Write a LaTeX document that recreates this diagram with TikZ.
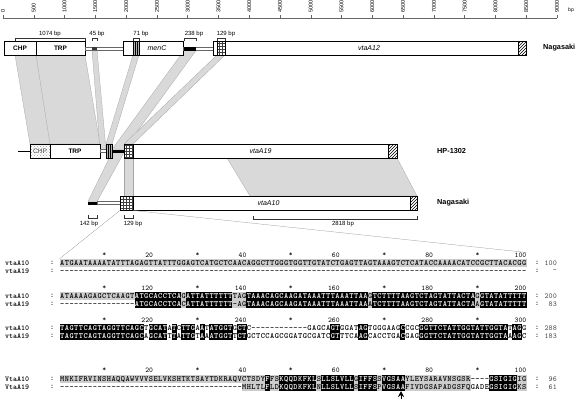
\documentclass[tikz,border=0pt]{standalone}
\usepackage{fontspec}
\setmainfont{Liberation Sans}
\usetikzlibrary{patterns,arrows.meta,positioning}

% alignment columns
\newcount\seqpos
\def\seqxo{60}
\def\seqcw{4.665}
\def\seqrep#1#2{\ifnum#1>0 #2\expandafter\seqrep\expandafter{\the\numexpr#1-1\relax}{#2}\fi}
\makeatletter
\def\seqblock#1#2#3#4#5#6{% name, y of row a, y of row b, row a, row b, mask
  \seqpos=0 \def\seqname{#1}\def\seqya{#2}\def\seqyb{#3}%
  \edef\seq@args{\noexpand\seq@loop#4\relax#5\relax#6\relax}\seq@args}
\def\seq@loop#1#2\relax#3#4\relax#5#6\relax{%
  \advance\seqpos by 1
  \seq@col{#1}{#3}{#5}%
  \ifx\relax#2\relax\expandafter\@gobble\else\expandafter\@firstofone\fi
  {\seq@loop#2\relax#4\relax#6\relax}}
\def\seq@col#1#2#3{%
  \if#3a\def\seqsa{g}\def\seqsb{n}\fi
  \if#3g\def\seqsa{g}\def\seqsb{g}\fi
  \if#3n\def\seqsa{n}\def\seqsb{n}\fi
  \if#3c\ifx#1#2\def\seqsa{k}\def\seqsb{k}\else\def\seqsa{g}\def\seqsb{g}\fi\fi
  \if#3d\ifx#1#2\def\seqsa{k}\def\seqsb{k}\else\def\seqsa{n}\def\seqsb{n}\fi\fi
  \pgfmathsetmacro\seqx{\seqxo+(\the\seqpos-0.5)*\seqcw}%
  \node[res\seqsa] (\seqname a-\the\seqpos) at (\seqx,\seqya) {#1};
  \node[res\seqsb] (\seqname b-\the\seqpos) at (\seqx,\seqyb) {#2};}
\makeatother
\def\seqruler#1#2#3{% name, y, offset
  \foreach \k in {1,...,5}{
    \pgfmathsetmacro\sx{\seqxo+(20*\k-10.5)*\seqcw}
    \node[ruler] (#1s\k) at (\sx,#2) {*};
    \pgfmathtruncatemacro\sn{#3+20*\k}
    \pgfmathsetmacro\sx{\seqxo+20*\k*\seqcw}
    \node[ruler, anchor=east] (#1n\k) at (\sx,#2) {\sn};
  }}
\def\seqtag#1#2#3#4{%
  \node[seqlab] (#1l) at (5,#2) {#3};
  \node[seqcolon] (#1c) at (52,#2) {:};
  \node[seqcolon] (#1e) at (537,#2) {:};
  \node[endnum] (#1n) at (557,#2) {#4};}

\begin{document}
\begin{tikzpicture}[x=1pt,y=-1pt,
  gene/.style={draw=black, line width=0.8pt, fill=white},
  band/.style={fill=gray!30, draw=gray!70, line width=0.3pt},
  tube/.style={draw=gray!80!black, line width=0.4pt, fill=white},
  gridbox/.style={draw=black, line width=0.4pt, pattern=grid, pattern color=black!75},
  hatchbox/.style={draw=black, line width=0.6pt, pattern=north east lines},
  dots/.style={pattern=crosshatch dots, pattern color=gray!80},
  genelab/.style={font=\bfseries\fontsize{6.5}{6.5}\selectfont, inner sep=0pt},
  genename/.style={font=\itshape\fontsize{7}{7}\selectfont, inner sep=0pt},
  strain/.style={font=\bfseries\fontsize{7.3}{7.3}\selectfont, anchor=west, inner sep=0pt},
  bplab/.style={font=\fontsize{6}{6}\selectfont, inner sep=0pt},
  scalelab/.style={font=\fontsize{5.5}{5.5}\selectfont, inner sep=0pt, rotate=90, anchor=west},
  brace/.style={line width=0.4pt, draw=black!80},
  zoomline/.style={draw=gray!80, line width=0.3pt},
  res/.style={font=\ttfamily\bfseries\fontsize{8}{8}\selectfont, inner sep=0pt, minimum width=4.9pt, minimum height=8.3pt, text height=4.8pt, text depth=0pt},
  resk/.style={res, fill=black, text=white},
  resg/.style={res, fill=gray!40},
  resn/.style={res},
  seqlab/.style={font=\ttfamily\bfseries\fontsize{7.6}{7.6}\selectfont, inner sep=0pt, anchor=west},
  seqcolon/.style={font=\ttfamily\bfseries\fontsize{7.6}{7.6}\selectfont, inner sep=0pt},
  ruler/.style={font=\ttfamily\fontsize{7.3}{7.3}\selectfont, inner sep=0pt},
  endnum/.style={font=\ttfamily\fontsize{7.6}{7.6}\selectfont, inner sep=0pt, anchor=east, text=black!70}
]
\useasboundingbox (0,0) rectangle (576,400);

% scale
\draw[black!60, line width=0.5pt] (3,18) -- (557,18);
\foreach \t in {0,500,...,9000}{
  \pgfmathsetmacro\tx{3+\t*0.061556}
  \draw[black!60, line width=0.4pt] (\tx,18) -- (\tx,14.5);
  \node[scalelab] (tk\t) at (\tx,13) {\t};
}
\node[bplab, font=\fontsize{5}{5}\selectfont] (bpunit) at (571,10) {bp};

% homology bands
\filldraw[band] (15,55) -- (85,55) -- (100,144) -- (30,144) -- cycle;
\draw[gray!70, line width=0.3pt] (36,55) -- (50,144);
\filldraw[band] (92,50) -- (97,50) -- (106,149.5) -- (100,149.5) -- cycle;
\filldraw[band] (133,55) -- (139,55) -- (112,144) -- (106,144) -- cycle;
\filldraw[band] (184,50.5) -- (196,50.5) -- (124,149.5) -- (112,149.5) -- cycle;
\filldraw[band] (217,55) -- (225,55) -- (133,144) -- (124,144) -- cycle;
\filldraw[band] (112,152.5) -- (124,152.5) -- (97,201.5) -- (88,201.5) -- cycle;
\filldraw[band] (124,158) -- (133,158) -- (133,196) -- (124,196) -- cycle;
\filldraw[band] (227,158) -- (397,158) -- (417,196) -- (250,196) -- cycle;

% Nagasaki, vtaA12
\draw[gene] (4,41) rectangle (36,55);
\node[genelab] (chpA) at (20,48) {CHP};
\draw[gene] (36,41) rectangle (85,55);
\node[genelab] (trpA) at (60.5,48) {TRP};
\draw[tube] (85,47) rectangle (123,50);
\fill[gray!45!black] (92,47) rectangle (97,50);
\draw[gene] (123,41) rectangle (183,55);
\draw[gene, fill=gray!60, line width=0.5pt] (133,41) rectangle (139,55);
\draw[line width=0.4pt] (135,41) -- (135,55) (137,41) -- (137,55);
\node[genename] (menC) at (157,48) {menC};
\draw[tube] (183,47) rectangle (213,50);
\fill[black] (184,46.5) rectangle (196,50.5);
\draw[gene] (213,41) rectangle (526,55);
\draw[gridbox] (217,41) rectangle (225,55);
\draw[hatchbox] (518,41) rectangle (526,55);
\node[genename] (vtaA12) at (369,48) {vtaA12};
\node[strain] (strainA) at (543,48) {Nagasaki};

\draw[brace] (15,41) -- (15,38) -- (85,38) -- (85,41);
\node[bplab] (bpA) at (50,33.5) {1074 bp};
\draw[brace] (92,41) -- (92,38) -- (97,38) -- (97,41);
\node[bplab] (bpB) at (97,33.5) {45 bp};
\draw[brace] (133,41) -- (133,38) -- (139,38) -- (139,41);
\node[bplab] (bpC) at (141,33.5) {71 bp};
\draw[brace] (184,41) -- (184,38) -- (196,38) -- (196,41);
\node[bplab] (bpD) at (194,33.5) {238 bp};
\draw[brace] (217,41) -- (217,38) -- (225,38) -- (225,41);
\node[bplab] (bpE) at (226,33.5) {129 bp};

% HP-1302, vtaA19
\draw[line width=0.6pt] (18,151) -- (30,151);
\draw[gene] (30,144) rectangle (50,158);
\fill[dots] (30,144) rectangle (50,158);
\draw[line width=0.8pt] (30,144) rectangle (50,158);
\node[genelab, font=\fontsize{6.5}{6.5}\selectfont, text=black!70] (chpB) at (40,151) {CHP};
\draw[gene] (50,144) rectangle (100,158);
\node[genelab] (trpB) at (75,151) {TRP};
\draw[tube] (100,149.5) rectangle (106,152.5);
\draw[gene, fill=gray!60] (106,144) rectangle (112,158);
\draw[line width=0.4pt] (108,144) -- (108,158) (110,144) -- (110,158);
\fill[black] (112,149.5) rectangle (124,152.5);
\draw[gene] (124,144) rectangle (397,158);
\draw[gridbox] (124,144) rectangle (133,158);
\draw[hatchbox] (388,144) rectangle (397,158);
\node[genename] (vtaA19) at (260.5,151) {vtaA19};
\node[strain] (strainB) at (437,151) {HP-1302};

% Nagasaki, vtaA10
\fill[black] (88,201.5) rectangle (97,204.5);
\draw[tube] (97,201.5) rectangle (120,204.5);
\draw[gene] (120,196) rectangle (417,210);
\draw[gridbox] (120,196) rectangle (133,210);
\draw[hatchbox] (410,196) rectangle (417,210);
\node[genename] (vtaA10) at (268.5,203) {vtaA10};
\node[strain] (strainC) at (437,203) {Nagasaki};

\draw[brace] (88,215) -- (88,218) -- (97,218) -- (97,215);
\node[bplab] (bpF) at (89,223.5) {142 bp};
\draw[brace] (124,215) -- (124,218) -- (133,218) -- (133,215);
\node[bplab] (bpG) at (133,223.5) {129 bp};
\draw[brace] (253,216) -- (253,219) -- (417,219) -- (417,216);
\node[bplab] (bpH) at (343,224) {2818 bp};

% alignment, nucleotides
\seqruler{r1}{255}{0}
\seqtag{t1a}{263}{vtaA10}{100}
\seqtag{t1b}{271}{vtaA19}{-}
\seqblock{b1}{263}{271}{ATGAATAAAATATTTAGAGTTATTTGGAGTCATGCTCAACAGGCTTGGGTGGTTGTATCTGAGTTAGTAAAGTCTCATACCAAAACATCCGCTTACACGG}{\seqrep{100}{-}}{\seqrep{100}{a}}

\seqruler{r2}{288}{100}
\seqtag{t2a}{296}{vtaA10}{200}
\seqtag{t2b}{304}{vtaA19}{83}
\seqblock{b2}{296}{304}{ATAAAAGAGCTCAAGTATGCACCTCAGATTATTTTTTTAGTAAACAGCAAGATAAATTTAAATTAAGTCTTTTAAGTCTAGTATTACTAGGTATATTTTT}{\seqrep{16}{-}ATGCACCTCACATTATTTTTT-AGTAAACAGCAAGATAAATTTAAATTAAATCTTTTAAGTCTAGTATTACTAAGTATATTTTT}{\seqrep{16}{a}\seqrep{21}{c}ggg\seqrep{60}{c}}

\seqruler{r3}{320}{200}
\seqtag{t3a}{328}{vtaA10}{288}
\seqtag{t3b}{336}{vtaA19}{183}
\seqblock{b3}{328}{336}{TAGTTCAGTAGGTTCAGCTGCATATCTTGAATATGGTGCTC\seqrep{12}{-}GAGCAGTGGATAGTGGGAAGCCGCGGTTCTATTGGTATTGGTATAGG}{TAGTTCAGTAGGTTCAGCAGCATTTATTGTAAATGGTTCTGCTCCAGCGGATGCGATCGTTTCAAGCACCTGACGAGGGTTCTATTGGTATTGGTAAAGC}{\seqrep{100}{d}}

% alignment, proteins
\seqruler{r4}{370}{0}
\seqtag{t4a}{379}{VtaA10}{96}
\seqtag{t4b}{387}{VtaA19}{61}
\seqblock{b4}{379}{387}{MNKIFRVINSHAQQAWVVVSELVKSHTKTSAYTDKRAQVCTSDYFFSKQQDKFKLSLLSLVLLGIFFSSVGSAAYLEYSARAVNSGSR----GSIGIGIG}{\seqrep{39}{-}MHLTLFLDKQQDKFKLNLLSLVLLSIFFSPVGSAAFIVDGSAPADGSFQGADEGSIGIGKS}{\seqrep{39}{a}\seqrep{49}{c}nnnn\seqrep{8}{c}}

\coordinate (arrTail) at (401,399);
\coordinate (arrTip) at (401,391);
\draw[line width=1pt, -{Stealth[length=6pt,width=6pt,inset=2pt]}] (arrTail) -- (arrTip);

% zoom lines
\coordinate (zoomA) at (120,210.4);
\coordinate (zoomB) at (133,210.4);
\draw[zoomline] (zoomA) -- (b1a-1.north west);
\draw[zoomline] (zoomB) -- (r1n5.north east);
\end{tikzpicture}
\end{document}
